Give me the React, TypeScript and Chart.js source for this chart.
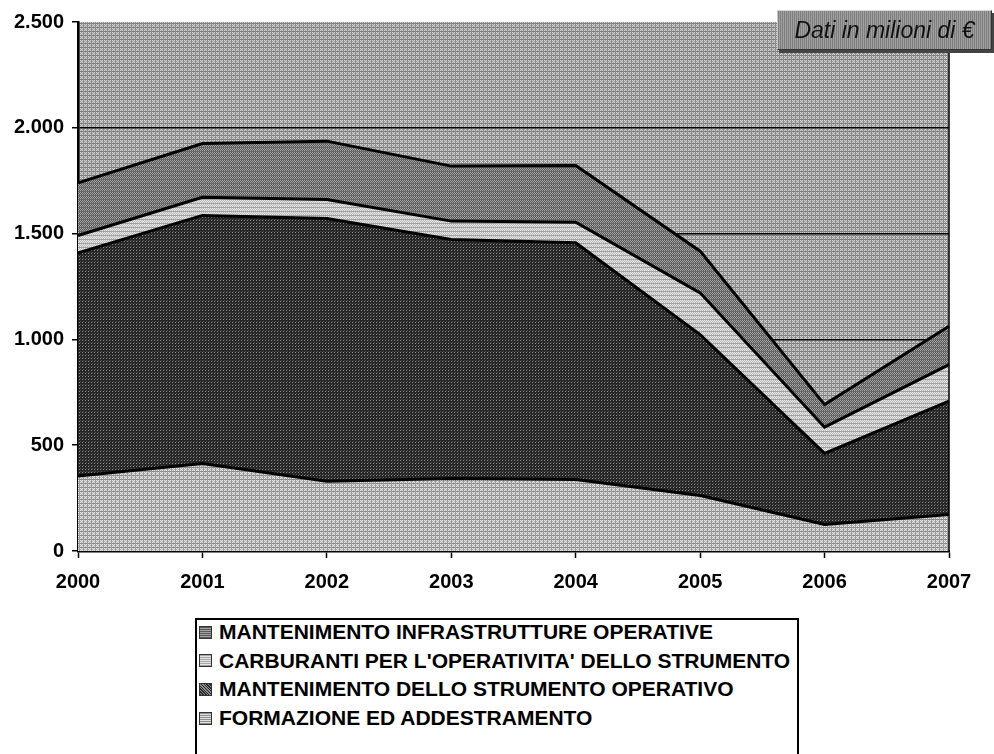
import React, { useEffect, useRef } from "react";
import { Chart, registerables } from "chart.js";

Chart.register(...registerables);

const years = ["2000", "2001", "2002", "2003", "2004", "2005", "2006", "2007"];
const formazione = [354, 413, 330, 343, 338, 262, 125, 172];
const mantenimentoStrumento = [1055, 1173, 1241, 1129, 1119, 761, 336, 536];
const carburanti = [82, 86, 90, 87, 97, 197, 124, 173];
const infrastrutture = [249, 254, 276, 260, 268, 197, 107, 181];

const labelInfra = "MANTENIMENTO INFRASTRUTTURE OPERATIVE";
const labelCarb = "CARBURANTI PER L'OPERATIVITA' DELLO STRUMENTO";
const labelMant = "MANTENIMENTO DELLO STRUMENTO OPERATIVO";
const labelForm = "FORMAZIONE ED ADDESTRAMENTO";

const yMin = 0;
const yMax = 2500;
const yStep = 500;

const FONT = "'Liberation Sans', Arial, Helvetica, sans-serif";

function makePattern(size: number, draw: (g: CanvasRenderingContext2D) => void) {
  const c = document.createElement("canvas");
  c.width = size;
  c.height = size;
  const g = c.getContext("2d")!;
  draw(g);
  return g.createPattern(c, "repeat")!;
}

function checker(g: CanvasRenderingContext2D, size: number, a: string, b: string) {
  g.fillStyle = a;
  g.fillRect(0, 0, size, size);
  g.fillStyle = b;
  for (let y = 0; y < size; y++)
    for (let x = 0; x < size; x++) if ((x + y) % 2 === 0) g.fillRect(x, y, 1, 1);
}

function fmt(v: number) {
  return String(v).replace(/\B(?=(\d{3})+(?!\d))/g, ".");
}

export default function App() {
  const ref = useRef<HTMLCanvasElement>(null);

  useEffect(() => {
    const bgPat = makePattern(4, (g) => {
      checker(g, 4, "#9e9e9e", "#d2d2d2");
      g.fillStyle = "#7c7c7c";
      g.fillRect(0, 3, 4, 1);
      g.fillStyle = "#8c8c8c";
      g.fillRect(3, 0, 1, 4);
    });
    const infraPat = makePattern(4, (g) => {
      checker(g, 4, "#585858", "#a4a4a4");
      g.fillStyle = "#6a6a6a";
      g.fillRect(0, 3, 4, 1);
    });
    const carbPat = makePattern(4, (g) => {
      checker(g, 4, "#b8b8b8", "#e8e8e8");
      g.fillStyle = "#a2a2a2";
      g.fillRect(0, 3, 4, 1);
    });
    const mantPat = makePattern(3, (g) => {
      g.fillStyle = "#262626";
      g.fillRect(0, 0, 3, 3);
      g.fillStyle = "#8c8c8c";
      g.fillRect(1, 1, 1, 1);
      g.fillStyle = "#505050";
      g.fillRect(2, 0, 1, 1);
    });
    const formPat = makePattern(4, (g) => {
      checker(g, 4, "#b2b2b2", "#e6e6e6");
      g.fillStyle = "#8a8a8a";
      g.fillRect(0, 3, 4, 1);
      g.fillStyle = "#9c9c9c";
      g.fillRect(3, 0, 1, 4);
    });

    const plotBg = {
      id: "plotBg",
      beforeDraw(chart: any) {
        const { ctx, chartArea: a } = chart;
        ctx.save();
        ctx.fillStyle = bgPat;
        ctx.fillRect(a.left, a.top, a.right - a.left, a.bottom - a.top);
        ctx.restore();
      },
      afterDraw(chart: any) {
        const { ctx, chartArea: a } = chart;
        ctx.save();
        ctx.strokeStyle = "#000";
        ctx.lineWidth = 1.5;
        ctx.beginPath();
        ctx.moveTo(a.right, a.top);
        ctx.lineTo(a.right, a.bottom);
        ctx.stroke();
        ctx.restore();
      },
    };

    const ds = (label: string, data: number[], pat: CanvasPattern, fill: any) => ({
      label,
      data,
      backgroundColor: pat,
      borderColor: "#000",
      borderWidth: 3,
      pointRadius: 0,
      tension: 0,
      fill,
    });

    const chart = new Chart(ref.current!, {
      type: "line",
      data: {
        labels: years,
        datasets: [
          ds(labelForm, formazione, formPat, "origin"),
          ds(labelMant, mantenimentoStrumento, mantPat, "-1"),
          ds(labelCarb, carburanti, carbPat, "-1"),
          ds(labelInfra, infrastrutture, infraPat, "-1"),
        ],
      },
      options: {
        animation: false,
        responsive: false,
        devicePixelRatio: 1,
        layout: { padding: { top: 22, right: 45, left: 0, bottom: 0 } },
        plugins: { legend: { display: false }, tooltip: { enabled: false } },
        scales: {
          x: {
            offset: false,
            grid: { drawOnChartArea: false, drawTicks: true, tickLength: 7, tickColor: "#000", tickWidth: 1.5 },
            border: { color: "#000", width: 2.5 },
            ticks: { color: "#000", font: { family: FONT, size: 20, weight: "bold" }, padding: 12, maxRotation: 0 },
            afterFit(s: any) {
              s.height = 49;
            },
          },
          y: {
            stacked: true,
            min: yMin,
            max: yMax,
            ticks: {
              stepSize: yStep,
              color: "#000",
              font: { family: FONT, size: 20, weight: "bold" },
              padding: 8,
              callback: (v: any) => fmt(Number(v)),
            },
            grid: {
              color: (c: any) => (c.tick && c.tick.value === yMax ? "rgba(0,0,0,0)" : "#000"),
              lineWidth: 1.5,
              tickLength: 6,
              tickColor: "#000",
              tickWidth: 1.5,
            },
            border: { color: "#000", width: 2.5 },
            afterFit(s: any) {
              s.width = 78;
            },
          },
        },
      },
      plugins: [plotBg],
    });
    return () => chart.destroy();
  }, []);

  const legendItems = [
    { label: labelInfra, bg: "repeating-linear-gradient(0deg,#5a5a5a 0 1px,#a0a0a0 1px 2px)" },
    { label: labelCarb, bg: "repeating-linear-gradient(0deg,#a8a8a8 0 1px,#e4e4e4 1px 2px)" },
    { label: labelMant, bg: "repeating-linear-gradient(45deg,#2a2a2a 0 1px,#8a8a8a 1px 2px)" },
    { label: labelForm, bg: "repeating-linear-gradient(0deg,#8e8e8e 0 1px,#e0e0e0 1px 2px)" },
  ];

  return (
    <div style={{ position: "fixed", left: 0, top: 0, width: 994, height: 754, background: "#fff", overflow: "hidden" }}>
      <canvas ref={ref} width={994} height={600} style={{ position: "absolute", left: 0, top: 0, width: 994, height: 600 }} />
      <div
        style={{
          position: "absolute",
          left: 777,
          top: 10,
          width: 213,
          height: 38,
          background: "repeating-linear-gradient(90deg,#7e7e7e 0 1px,#a0a0a0 1px 2px)",
          border: "1px solid #333",
          borderTopColor: "#d8d8d8",
          borderLeftColor: "#c8c8c8",
          boxShadow: "2px 3px 0 #444",
          fontFamily: FONT,
          fontStyle: "italic",
          fontSize: 23,
          color: "#111",
          lineHeight: "38px",
          textAlign: "center",
          whiteSpace: "nowrap",
        }}
      >
        Dati in milioni di €
      </div>
      <div
        style={{
          position: "absolute",
          left: 195,
          top: 618,
          width: 600,
          height: 140,
          border: "2px solid #000",
          borderBottom: "none",
        }}
      />
      {legendItems.map((it, i) => (
        <div
          key={it.label}
          style={{
            position: "absolute",
            left: 199,
            top: 618 + i * 28.7,
            height: 28,
            display: "flex",
            alignItems: "center",
            fontFamily: FONT,
            fontWeight: "bold",
            fontSize: 21,
            color: "#000",
            whiteSpace: "nowrap",
          }}
        >
          <span
            style={{
              display: "inline-block",
              width: 11,
              height: 11,
              border: "1px solid #333",
              background: it.bg,
              marginRight: 7,
              flex: "none",
            }}
          />
          {it.label}
        </div>
      ))}
    </div>
  );
}
